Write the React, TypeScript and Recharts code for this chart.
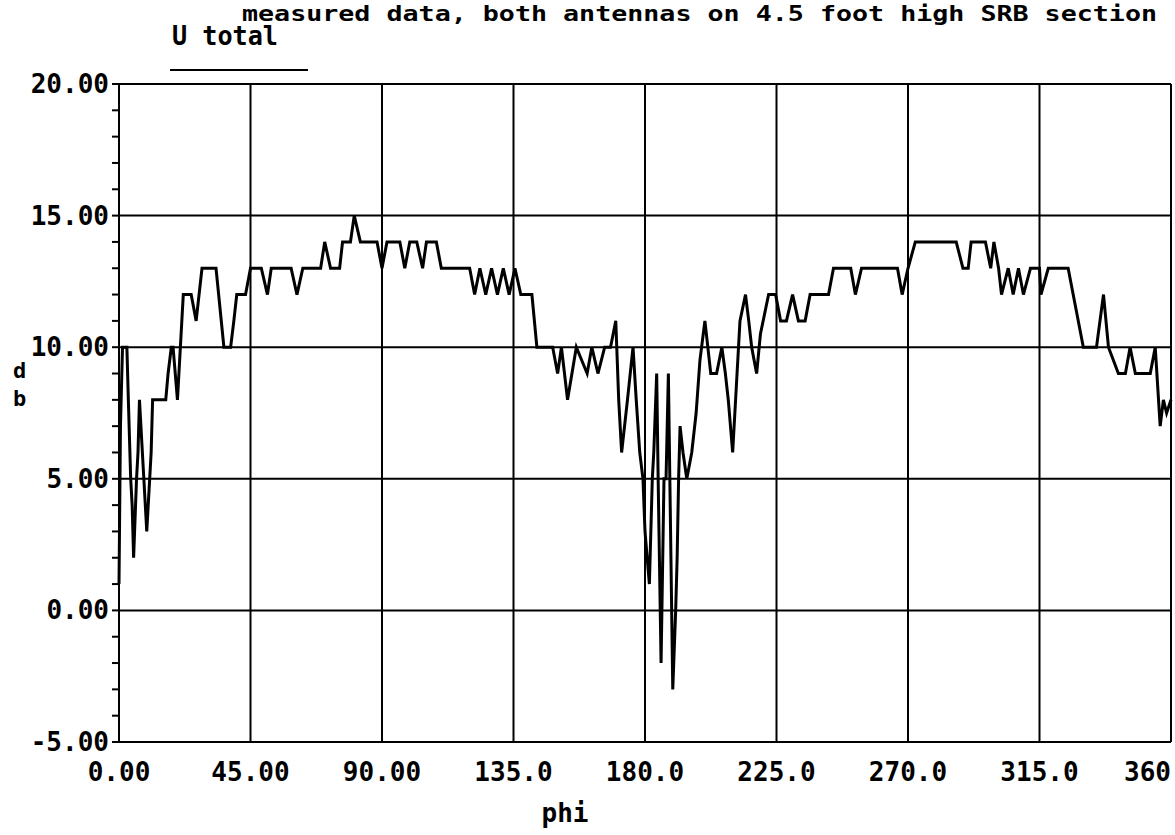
import React from 'react';
import { LineChart, Line, XAxis, YAxis, ReferenceLine } from 'recharts';

// measured pattern: azimuth angle (deg) and level (dB)
const phi = [
  0, 0.5, 1.2, 2.7, 3.2, 4, 4.5, 5, 6, 6.5, 7, 8, 9.5, 10.5, 11, 11.5, 16, 16.8, 17.9, 18.5,
  20, 21, 22, 24.7, 26.4, 27.4, 28.4, 33.2, 35.9, 38.2, 39.3, 40.3, 43.3, 45, 48.7, 50.8,
  52.1, 58.9, 60.9, 62.9, 69, 70.4, 72.4, 75.5, 76.5, 79.2, 80.5, 82.6, 88.3, 90, 91.7,
  96.1, 97.8, 99.5, 101.9, 103.9, 105.2, 108.6, 110.3, 120, 121.7, 123.5, 125.5, 127.5,
  129.5, 131.5, 133.5, 135.5, 137.5, 140.5, 141.3, 143, 148.4, 150.1, 151.4, 153.5, 156.5,
  160.2, 161.8, 163.9, 166.2, 168.2, 170, 171, 172, 174, 175.9, 177, 178.2, 179.3, 180,
  181.5, 182.5, 183, 184, 184.5, 185.5, 186.5, 187.2, 188, 188.5, 189.5, 190.5, 191, 191.5,
  192, 193, 194.3, 196, 197.5, 198.8, 200.5, 201.5, 202.5, 204.5, 206.3, 207.5, 208.5, 210,
  211.5, 212.5, 214.4, 215.5, 216.5, 218.2, 219.5, 222.3, 224.7, 226.4, 228.4, 230.5, 232.5,
  234.8, 236.5, 242.8, 244.5, 250.4, 252, 254.1, 266.4, 268, 270, 272.5, 286.5, 288.8, 290.6,
  291.6, 296.5, 298.3, 299.4, 301, 302, 304.3, 306, 307.8, 309.5, 311.9, 315, 315.5, 318,
  324.8, 330, 334.5, 336.9, 338.6, 342, 344.4, 346, 347.8, 352.9, 354.6, 356.3, 357.4, 358.5,
  360,
];

const db = [
  1, 7, 10, 10, 8, 5, 4, 2, 5, 6, 8, 6, 3, 5, 6, 8, 8, 9, 10, 10,
  8, 10, 12, 12, 11, 12, 13, 13, 10, 10, 11, 12, 12, 13, 13, 12,
  13, 13, 12, 13, 13, 14, 13, 13, 14, 14, 15, 14, 14, 13, 14,
  14, 13, 14, 14, 13, 14, 14, 13, 13, 12, 13, 12, 13,
  12, 13, 12, 13, 12, 12, 12, 10, 10, 9, 10, 8, 10,
  9, 10, 9, 10, 10, 11, 8, 6, 8, 10, 8, 6, 5, 3,
  1, 5, 6, 9, 5, -2, 5, 5, 9, 5, -3, 0, 2, 5,
  7, 6, 5, 6, 7.5, 9.5, 11, 10, 9, 9, 10, 9, 8, 6,
  9, 11, 12, 11, 10, 9, 10.5, 12, 12, 11, 11, 12, 11,
  11, 12, 12, 13, 13, 12, 13, 13, 12, 13, 14, 14, 13, 13,
  14, 14, 13, 14, 13, 12, 13, 12, 13, 12, 13, 13, 12, 13,
  13, 10, 10, 12, 10, 9, 9, 10, 9, 9, 10, 7, 8, 7.5,
  8,
];

const xTicks = [0, 45, 90, 135, 180, 225, 270, 315, 360];
const xLabels = ['0.00', '45.00', '90.00', '135.0', '180.0', '225.0', '270.0', '315.0', '360'];
const yMajor = [-5, 0, 5, 10, 15, 20];
const yLabels = ['-5.00', '0.00', '5.00', '10.00', '15.00', '20.00'];
const yMinor = Array.from({ length: 26 }, (_, i) => i - 5);

const data = phi.map((p, i) => ({ phi: p, db: db[i] }));

const FONT = '"DejaVu Sans Mono", "Liberation Mono", monospace';

const YTick = (props: any) => {
  const { x, y, payload } = props;
  const idx = yMajor.indexOf(payload.value);
  if (idx < 0) return null;
  return (
    <text x={x} y={y} textAnchor="end" dominantBaseline="central" fontFamily={FONT} fontWeight="bold" fontSize={26} fill="#000">
      {yLabels[idx]}
    </text>
  );
};

const XTick = (props: any) => {
  const { x, y, payload, index } = props;
  const last = index === xTicks.length - 1;
  return (
    <text x={x} y={y + 37} textAnchor={last ? 'end' : 'middle'} fontFamily={FONT} fontWeight="bold" fontSize={26} fill="#000">
      {xLabels[xTicks.indexOf(payload.value)]}
    </text>
  );
};

export default function App() {
  return (
    <div style={{ position: 'fixed', left: 0, top: 0, width: 1175, height: 835, background: '#fff' }}>
      <LineChart width={1175} height={835} data={data} margin={{ top: 84, right: 4, left: 9, bottom: 0 }}>
        <XAxis
          dataKey="phi"
          type="number"
          domain={[0, 360]}
          ticks={xTicks}
          interval={0}
          height={93}
          tickLine={false}
          tickSize={0}
          axisLine={{ stroke: '#000', strokeWidth: 2 }}
          tick={<XTick />}
        />
        <YAxis
          type="number"
          domain={[-5, 20]}
          ticks={yMinor}
          interval={0}
          width={110}
          tickSize={7}
          tickMargin={3}
          tickLine={{ stroke: '#000', strokeWidth: 2 }}
          axisLine={{ stroke: '#000', strokeWidth: 2 }}
          tick={<YTick />}
        />
        {yMajor.slice(1).map((v) => (
          <ReferenceLine key={`h${v}`} y={v} stroke="#000" strokeWidth={2} />
        ))}
        {xTicks.slice(1).map((v) => (
          <ReferenceLine key={`v${v}`} x={v} stroke="#000" strokeWidth={2} />
        ))}
        <Line
          dataKey="db"
          type="linear"
          stroke="#000"
          strokeWidth={3}
          dot={false}
          isAnimationActive={false}
        />
      </LineChart>
      <svg width={1175} height={835} style={{ position: 'absolute', left: 0, top: 0, pointerEvents: 'none' }}>
        <text x={242} y={21} textLength={915} lengthAdjust="spacingAndGlyphs" fontFamily={FONT} fontWeight="bold" fontSize={22} fill="#000">
          measured data, both antennas on 4.5 foot high SRB section
        </text>
        <text x={172} y={45} textLength={106} lengthAdjust="spacingAndGlyphs" fontFamily={FONT} fontWeight="bold" fontSize={27} fill="#000">
          U total
        </text>
        <line x1={170} x2={308} y1={70} y2={70} stroke="#000" strokeWidth={2} />
        <text x={13} y={378} fontFamily={FONT} fontWeight="bold" fontSize={22} fill="#000">d</text>
        <text x={13} y={406} fontFamily={FONT} fontWeight="bold" fontSize={22} fill="#000">b</text>
        <text x={565} y={822} textAnchor="middle" fontFamily={FONT} fontWeight="bold" fontSize={26} fill="#000">phi</text>
      </svg>
    </div>
  );
}
